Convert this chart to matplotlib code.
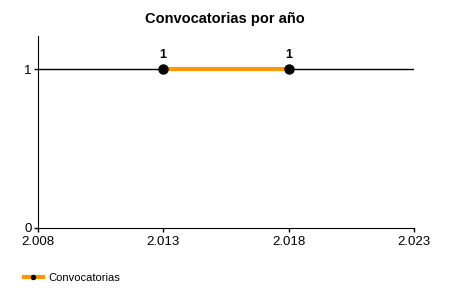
import matplotlib
matplotlib.use("Agg")
import matplotlib.pyplot as plt
from matplotlib.ticker import FuncFormatter

plt.rcParams['font.family'] = ['Liberation Sans', 'DejaVu Sans']

years = [2013, 2018]
counts = [1, 1]
x_ticks = [2008, 2013, 2018, 2023]
y_ticks = [0, 1]

fig = plt.figure(figsize=(4.5, 3), dpi=100)
ax = fig.add_axes([37.5 / 450, 1 - 228 / 300, (414 - 37.5) / 450, (228 - 36) / 300])

ax.axhline(1, color='black', linewidth=1, zorder=1)
ax.plot(years, counts, color='#FF9900', linewidth=3, marker='o',
        markersize=6.5, markerfacecolor='black', markeredgecolor='black',
        label='Convocatorias', zorder=3)
for x, y in zip(years, counts):
    ax.annotate(str(y), (x, y), xytext=(0, 6), textcoords='offset points',
                ha='center', va='bottom', fontsize=9, fontweight='bold')

ax.set_xlim(2008, 2023)
ax.set_ylim(0, 1.21)
ax.set_xticks(x_ticks)
ax.set_yticks(y_ticks)
ax.xaxis.set_major_formatter(FuncFormatter(lambda v, p: f"{int(v):,}".replace(",", ".")))
ax.tick_params(labelsize=9.5, length=3, width=1)
ax.tick_params(axis='x', pad=2.5)
ax.tick_params(axis='y', pad=1)
for s in ['top', 'right']:
    ax.spines[s].set_visible(False)

fig.text(0.5, 1 - 19 / 300, 'Convocatorias por año', ha='center', va='center',
         fontsize=10.5, fontweight='bold')

leg = fig.legend(loc='center left', bbox_to_anchor=(14 / 450, 1 - 278 / 300),
                 frameon=False, fontsize=8, handlelength=1.7, handletextpad=0.5,
                 markerscale=0.45)

fig.savefig('out.png', dpi=100)
